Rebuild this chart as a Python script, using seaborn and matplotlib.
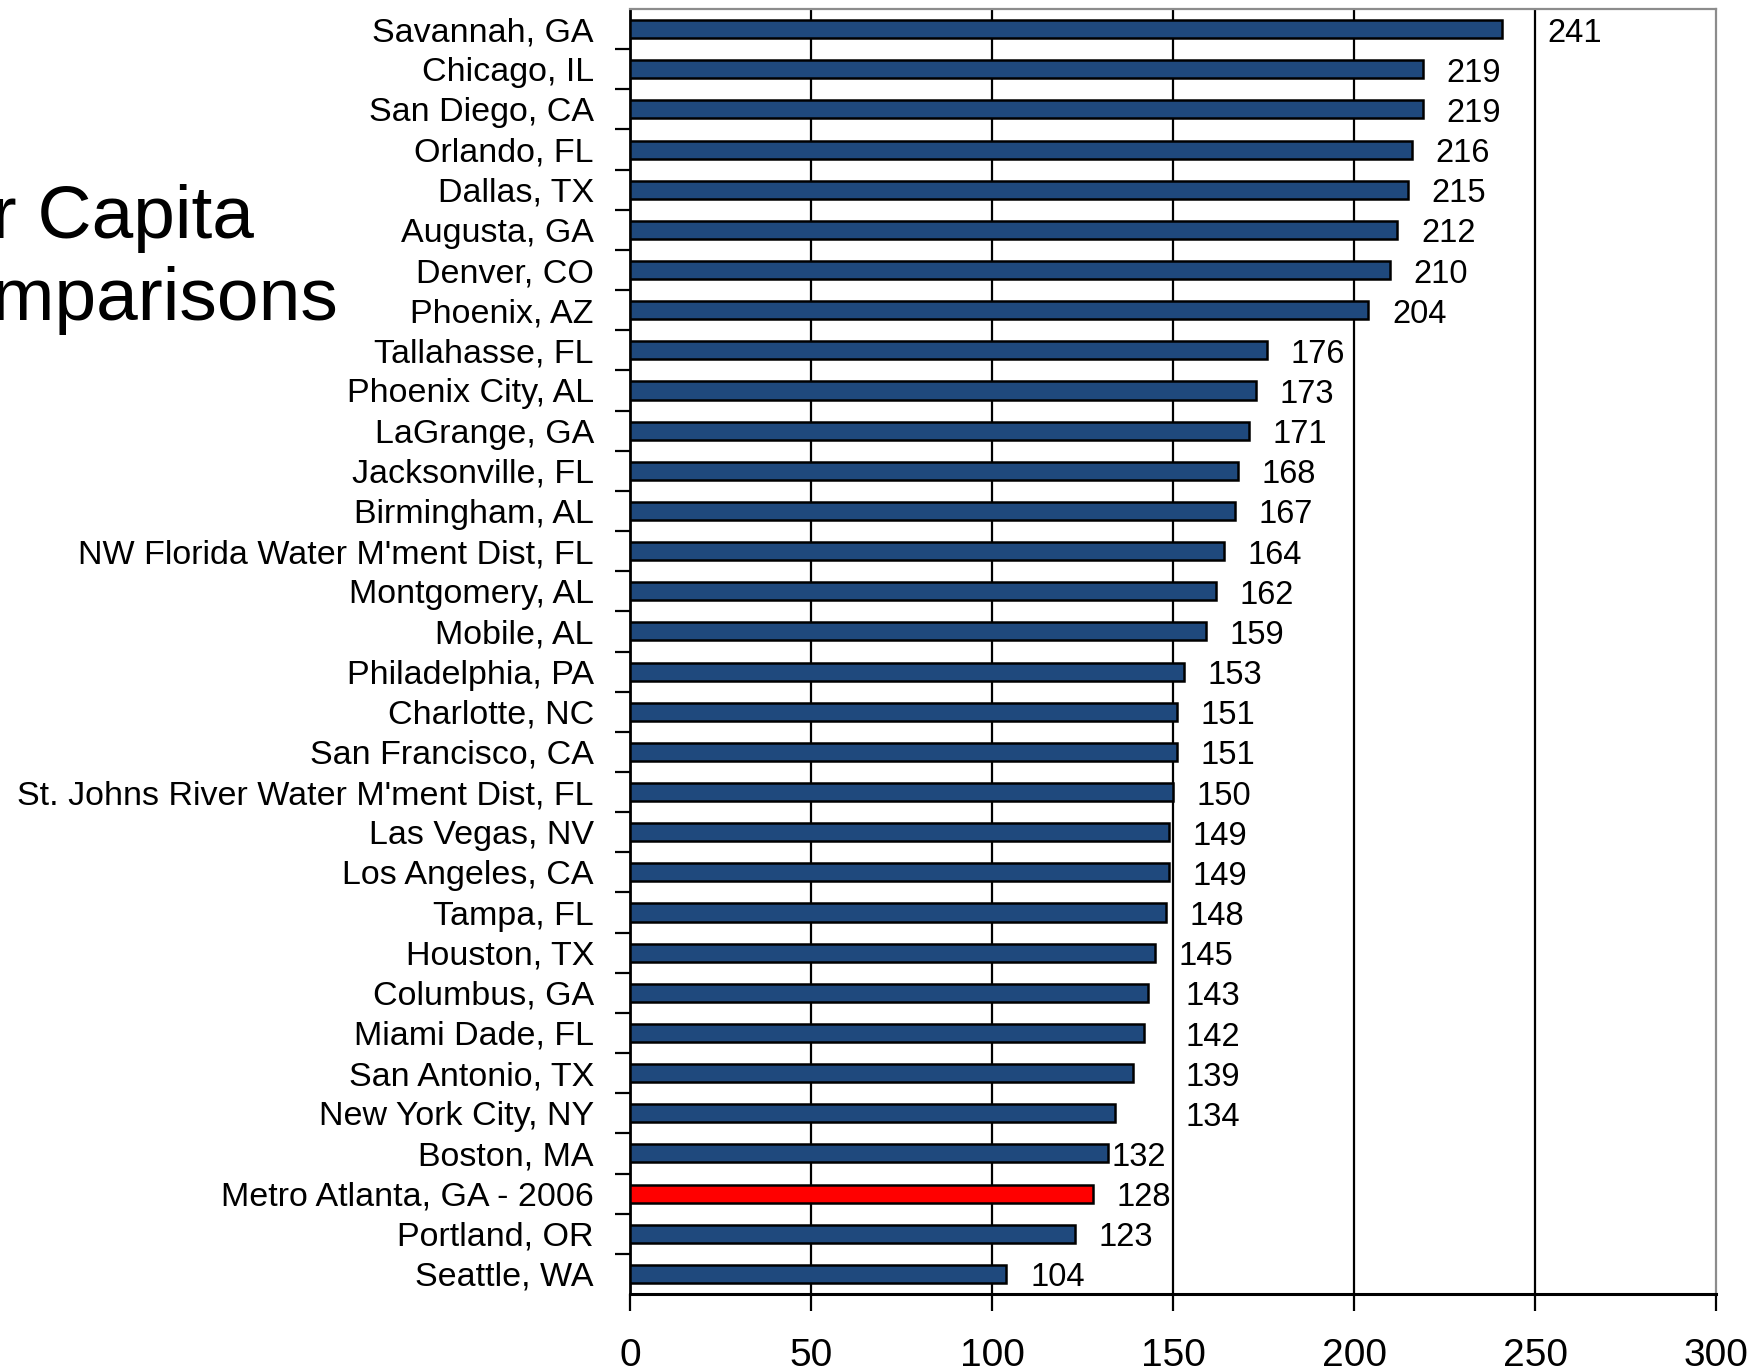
import matplotlib
matplotlib.use("Agg")
import matplotlib.pyplot as plt
import seaborn as sns
import pandas as pd
import numpy as np

cities = [
    "Savannah, GA", "Chicago, IL", "San Diego, CA", "Orlando, FL", "Dallas, TX",
    "Augusta, GA", "Denver, CO", "Phoenix, AZ", "Tallahasse, FL", "Phoenix City, AL",
    "LaGrange, GA", "Jacksonville, FL", "Birmingham, AL", "NW Florida Water M'ment Dist, FL",
    "Montgomery, AL", "Mobile, AL", "Philadelphia, PA", "Charlotte, NC", "San Francisco, CA",
    "St. Johns River Water M'ment Dist, FL", "Las Vegas, NV", "Los Angeles, CA", "Tampa, FL",
    "Houston, TX", "Columbus, GA", "Miami Dade, FL", "San Antonio, TX", "New York City, NY",
    "Boston, MA", "Metro Atlanta, GA - 2006", "Portland, OR", "Seattle, WA",
]
gpcd = [241, 219, 219, 216, 215, 212, 210, 204, 176, 173, 171, 168, 167, 164, 162, 159,
        153, 151, 151, 150, 149, 149, 148, 145, 143, 142, 139, 134, 132, 128, 123, 104]
highlight = "Metro Atlanta, GA - 2006"
x_ticks = [0, 50, 100, 150, 200, 250, 300]
title_lines = ["Per Capita", "Comparisons"]

BLUE = "#1F497D"
RED = "#FF0000"

sns.set_style("white")
plt.rcParams["font.family"] = ["Liberation Sans", "DejaVu Sans"]
plt.rcParams["text.color"] = "black"
plt.rcParams["xtick.color"] = "black"
plt.rcParams["ytick.color"] = "black"

df = pd.DataFrame({"city": cities, "gpcd": gpcd})
palette = {c: (RED if c == highlight else BLUE) for c in cities}

fig = plt.figure(figsize=(17.61, 13.72), dpi=100)
ax = fig.add_axes([630 / 1761, 1 - 1294 / 1372, (1716 - 630) / 1761, (1294 - 9) / 1372])

sns.barplot(data=df, x="gpcd", y="city", hue="city", palette=palette, legend=False,
            orient="h", width=0.45, edgecolor="black", linewidth=1.8, saturation=1,
            ax=ax, zorder=3)

ax.set_xlim(0, 300)
ax.set_ylim(len(cities) - 0.5, -0.5)
ax.set_xlabel("")
ax.set_ylabel("")

# vertical gridlines
for g in x_ticks[1:-1]:
    ax.axvline(g, color="black", lw=1.6, zorder=1)

# spines
for s in ["top", "right"]:
    ax.spines[s].set_color("#8C8C8C")
    ax.spines[s].set_linewidth(1.6)
ax.spines["left"].set_color("black")
ax.spines["left"].set_linewidth(2)
ax.spines["bottom"].set_color("black")
ax.spines["bottom"].set_linewidth(2.2)

ax.set_xticks(x_ticks)
ax.set_xticklabels([str(t) for t in x_ticks])
ax.tick_params(axis="x", direction="out", length=12, width=1.6, color="black",
               pad=20, labelsize=28, bottom=True, labelcolor="black")

# category labels with separators between rows
ax.set_yticks(range(len(cities)))
ax.set_yticklabels(cities)
ax.tick_params(axis="y", which="major", length=0, pad=26, labelsize=24.5,
               labelcolor="black")
ax.set_yticks(np.arange(len(cities) - 1) + 0.5, minor=True)
ax.tick_params(axis="y", which="minor", direction="out", length=11, width=1.6,
               color="black", left=True)

# value labels; shift past a gridline when the text would sit on it
label_w = 15
for i, v in enumerate(gpcd):
    x = v + 6.5
    for g in (150, 250):
        if x < g < x + label_w:
            x = g + 3.5 if g - v < 17 else v + 1
    ax.text(x, i + 0.1, str(v), ha="left", va="center", fontsize=23.5, color="black",
            zorder=4)

# slide title running off the left edge
fig.text(-100 / 1761, 1 - 238 / 1372, title_lines[0], fontsize=54, ha="left",
         va="baseline", color="black")
fig.text(-104 / 1761, 1 - 320 / 1372, title_lines[1], fontsize=54, ha="left",
         va="baseline", color="black")

fig.savefig("out.png", dpi=100)
